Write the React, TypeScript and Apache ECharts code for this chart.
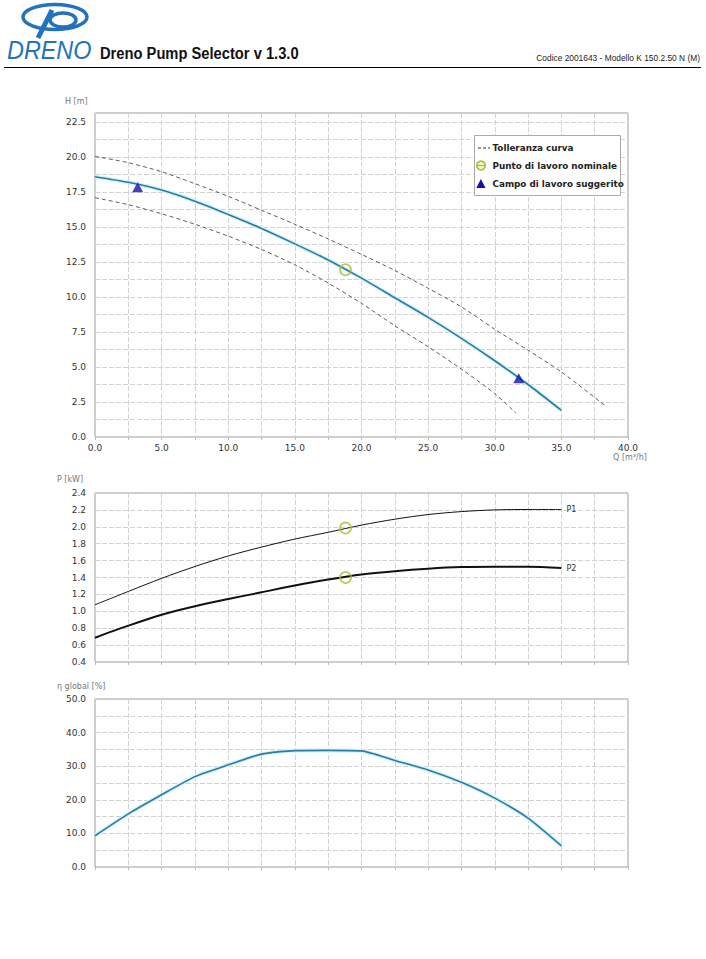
import React, { useEffect, useRef } from "react";
import * as echarts from "echarts";

// ---- data ----
const qValues = [0, 2.5, 5, 7.5, 10, 12.5, 15, 17.5, 20, 22.5, 25, 27.5, 30, 32.5, 35];
const headMain = [18.6, 18.2, 17.65, 16.85, 15.9, 14.9, 13.8, 12.65, 11.35, 9.95, 8.55, 7.05, 5.45, 3.75, 1.9];

const qUpper = [0, 2.5, 5, 7.5, 10, 12.5, 15, 17.5, 20, 22.5, 25, 27.5, 30, 32.5, 35, 38.4];
const headUpper = [20.05, 19.6, 18.95, 18.1, 17.2, 16.2, 15.2, 14.15, 13.05, 11.9, 10.63, 9.3, 7.7, 6.2, 4.65, 2.15];

const qLower = [0, 2.5, 5, 7.5, 10, 12.5, 15, 17.5, 20, 22.5, 25, 27.5, 30, 31.6];
const headLower = [17.1, 16.6, 15.95, 15.2, 14.35, 13.4, 12.3, 11.0, 9.55, 7.95, 6.45, 4.85, 3.1, 1.7];

const powerP1 = [1.077, 1.235, 1.39, 1.53, 1.655, 1.76, 1.855, 1.935, 2.02, 2.09, 2.145, 2.18, 2.2, 2.205, 2.205];
const powerP2 = [0.687, 0.83, 0.96, 1.06, 1.145, 1.225, 1.305, 1.376, 1.436, 1.475, 1.504, 1.523, 1.528, 1.528, 1.511];

const efficiency = [9.3, 15.8, 21.5, 26.9, 30.4, 33.6, 34.65, 34.7, 34.55, 31.7, 28.9, 25.2, 20.5, 14.55, 6.3];

const nominalQ = 18.8;
const nominalH = 11.95;
const nominalP1 = 1.985;
const nominalP2 = 1.4;

const suggestedQ = [3.2, 31.8];
const suggestedH = [17.85, 4.2];

const legendLabels = ["Tolleranza curva", "Punto di lavoro nominale", "Campo di lavoro suggerito"];

// ---- styles ----
const BLUE = "#2a7ca4";
const HALO = "#d3f2fb";
const GRID_LINE = { color: "#d2d2d2", type: [5, 2] as any, width: 1 };
const LABEL_FONT = { fontFamily: "DejaVu Sans", fontSize: 9, color: "#333" };
const isMult = (v: number, m: number) => Math.abs(v / m - Math.round(v / m)) < 1e-6;

const pairs = (xs: number[], ys: number[]) => xs.map((x, i) => [x, ys[i]]);

export default function App() {
  const ref = useRef<HTMLDivElement>(null);

  useEffect(() => {
    if (!ref.current) return;
    const chart = echarts.init(ref.current, undefined, { renderer: "svg" });

    const grids = [
      { left: 95, top: 113, width: 533, height: 324 },
      { left: 95, top: 493, width: 533, height: 169 },
      { left: 95, top: 699, width: 533, height: 168 },
    ].map((g) => ({ ...g, show: true, borderColor: "#999", borderWidth: 1, backgroundColor: "#fff" }));

    const xAxis = [0, 1, 2].map((i) => ({
      type: "value",
      gridIndex: i,
      min: 0,
      max: 40,
      interval: 2.5,
      axisLine: { show: false },
      axisTick: { show: true, length: 3, lineStyle: { color: "#bbb" } },
      splitLine: { show: true, lineStyle: GRID_LINE },
      axisLabel: {
        show: i === 0,
        margin: 6,
        ...LABEL_FONT,
        formatter: (v: number) => (isMult(v, 5) ? v.toFixed(1) : ""),
      },
    }));

    const yCommon = {
      type: "value",
      axisLine: { show: false },
      axisTick: { show: false },
      splitLine: { show: true, lineStyle: GRID_LINE },
    };
    const yAxis = [
      {
        ...yCommon,
        gridIndex: 0,
        min: 0,
        max: 23.15,
        interval: 1.25,
        axisLabel: { margin: 9, ...LABEL_FONT, formatter: (v: number) => (isMult(v, 2.5) ? v.toFixed(1) : "") },
      },
      {
        ...yCommon,
        gridIndex: 1,
        min: 0.4,
        max: 2.4,
        interval: 0.2,
        axisLabel: { margin: 9, ...LABEL_FONT, formatter: (v: number) => v.toFixed(1) },
      },
      {
        ...yCommon,
        gridIndex: 2,
        min: 0,
        max: 50,
        interval: 5,
        axisLabel: { margin: 9, ...LABEL_FONT, formatter: (v: number) => (isMult(v, 10) ? v.toFixed(1) : "") },
      },
    ];

    const nominalStyle = { color: "rgba(255,255,255,0)", borderColor: "#a6c13a", borderWidth: 1.8 };
    const endLabel = (t: string) => ({
      show: true,
      formatter: t,
      distance: 5,
      fontFamily: "DejaVu Sans",
      fontSize: 8,
      color: "#333",
    });
    const dashed = { color: "#333", width: 0.8, type: [4, 3] };

    const series: any[] = [
      // head curve
      { type: "line", xAxisIndex: 0, yAxisIndex: 0, data: pairs(qValues, headMain), symbol: "none", smooth: 0.25, silent: true, lineStyle: { color: HALO, width: 4 }, z: 2 },
      { type: "line", xAxisIndex: 0, yAxisIndex: 0, data: pairs(qValues, headMain), symbol: "none", smooth: 0.25, lineStyle: { color: BLUE, width: 1.6 }, z: 3 },
      { type: "line", xAxisIndex: 0, yAxisIndex: 0, data: pairs(qUpper, headUpper), symbol: "none", smooth: 0.25, lineStyle: dashed, z: 3 },
      { type: "line", xAxisIndex: 0, yAxisIndex: 0, data: pairs(qLower, headLower), symbol: "none", smooth: 0.25, lineStyle: dashed, z: 3 },
      { type: "scatter", xAxisIndex: 0, yAxisIndex: 0, data: [[nominalQ, nominalH]], symbol: "circle", symbolSize: 11, itemStyle: nominalStyle, z: 6 },
      { type: "scatter", xAxisIndex: 0, yAxisIndex: 0, data: pairs(suggestedQ, suggestedH), symbol: "triangle", symbolSize: [11, 10], itemStyle: { color: "#1212a8" }, z: 6 },
      // power curves
      { type: "line", xAxisIndex: 1, yAxisIndex: 1, data: pairs(qValues, powerP1), symbol: "none", smooth: 0.3, lineStyle: { color: "#111", width: 1 }, endLabel: endLabel("P1"), z: 3 },
      { type: "line", xAxisIndex: 1, yAxisIndex: 1, data: pairs(qValues, powerP2), symbol: "none", smooth: 0.3, lineStyle: { color: "#111", width: 2 }, endLabel: endLabel("P2"), z: 3 },
      { type: "scatter", xAxisIndex: 1, yAxisIndex: 1, data: [[nominalQ, nominalP1], [nominalQ, nominalP2]], symbol: "circle", symbolSize: 11, itemStyle: nominalStyle, z: 6 },
      // efficiency
      { type: "line", xAxisIndex: 2, yAxisIndex: 2, data: pairs(qValues, efficiency), symbol: "none", smooth: 0.2, silent: true, lineStyle: { color: HALO, width: 4 }, z: 2 },
      { type: "line", xAxisIndex: 2, yAxisIndex: 2, data: pairs(qValues, efficiency), symbol: "none", smooth: 0.2, lineStyle: { color: BLUE, width: 1.6 }, z: 3 },
    ];

    const axisNameStyle = { fontFamily: "DejaVu Sans", fontSize: 8, fill: "#777" };
    const legendFont = "bold 8.8px 'DejaVu Sans'";
    const LOGO = "#2472bb";

    const graphic: any[] = [
      // header logo
      { type: "ellipse", shape: { cx: 55, cy: 17, rx: 32, ry: 12.5 }, style: { fill: "none", stroke: LOGO, lineWidth: 3.5 } },
      { type: "line", shape: { x1: 52, y1: 10, x2: 38, y2: 38 }, style: { stroke: LOGO, lineWidth: 5 } },
      { type: "ellipse", shape: { cx: 63, cy: 20, rx: 13, ry: 7 }, style: { fill: "none", stroke: LOGO, lineWidth: 3.5 } },
      { type: "text", x: 7, y: 50, scaleX: 0.9, style: { text: "DRENO", font: "italic 26px 'Liberation Sans'", fill: LOGO, verticalAlign: "middle" } },
      { type: "text", x: 100, y: 53, scaleX: 0.92, style: { text: "Dreno Pump Selector v 1.3.0", font: "bold 16px 'Liberation Sans'", fill: "#111", verticalAlign: "middle" } },
      { type: "text", x: 700, y: 58, scaleX: 0.93, style: { text: "Codice 2001643 - Modello K 150.2.50 N (M)", font: "9px 'Liberation Sans'", fill: "#222", align: "right", verticalAlign: "middle" } },
      { type: "line", shape: { x1: 4, y1: 67.5, x2: 701, y2: 67.5 }, style: { stroke: "#000", lineWidth: 1 } },
      // axis names
      { type: "text", x: 65, y: 101, style: { text: "H [m]", ...axisNameStyle, verticalAlign: "middle" } },
      { type: "text", x: 630, y: 457, style: { text: "Q [m³/h]", ...axisNameStyle, align: "center", verticalAlign: "middle" } },
      { type: "text", x: 57, y: 479, style: { text: "P [kW]", ...axisNameStyle, verticalAlign: "middle" } },
      { type: "text", x: 57, y: 686, style: { text: "η global [%]", ...axisNameStyle, verticalAlign: "middle" } },
      // legend box
      { type: "rect", shape: { x: 474.5, y: 135.5, width: 146, height: 60 }, style: { fill: "#fff", stroke: "#aaa", lineWidth: 1 }, z: 10 },
      { type: "line", shape: { x1: 478, y1: 148, x2: 490, y2: 148 }, style: { stroke: "#333", lineWidth: 1, lineDash: [3, 2] }, z: 11 },
      { type: "text", x: 492.5, y: 148, style: { text: legendLabels[0], font: legendFont, fill: "#222", verticalAlign: "middle" }, z: 11 },
      { type: "circle", shape: { cx: 481, cy: 165.5, r: 4.3 }, style: { fill: "#f4f8d0", stroke: "#a6c13a", lineWidth: 1.6 }, z: 11 },
      { type: "line", shape: { x1: 477, y1: 165.5, x2: 485, y2: 165.5 }, style: { stroke: "#a6c13a", lineWidth: 1.2 }, z: 12 },
      { type: "text", x: 492.5, y: 165.5, style: { text: legendLabels[1], font: legendFont, fill: "#222", verticalAlign: "middle" }, z: 11 },
      { type: "polygon", shape: { points: [[476.3, 188], [485.5, 188], [480.9, 179]] }, style: { fill: "#1212a8" }, z: 11 },
      { type: "text", x: 492.5, y: 183.5, style: { text: legendLabels[2], font: legendFont, fill: "#222", verticalAlign: "middle" }, z: 11 },
    ];

    chart.setOption({
      animation: false,
      backgroundColor: "#fff",
      grid: grids,
      xAxis,
      yAxis,
      series,
      graphic,
    });

    return () => chart.dispose();
  }, []);

  return (
    <div
      ref={ref}
      style={{ position: "absolute", left: 0, top: 0, width: 706, height: 959, background: "#fff" }}
    />
  );
}
